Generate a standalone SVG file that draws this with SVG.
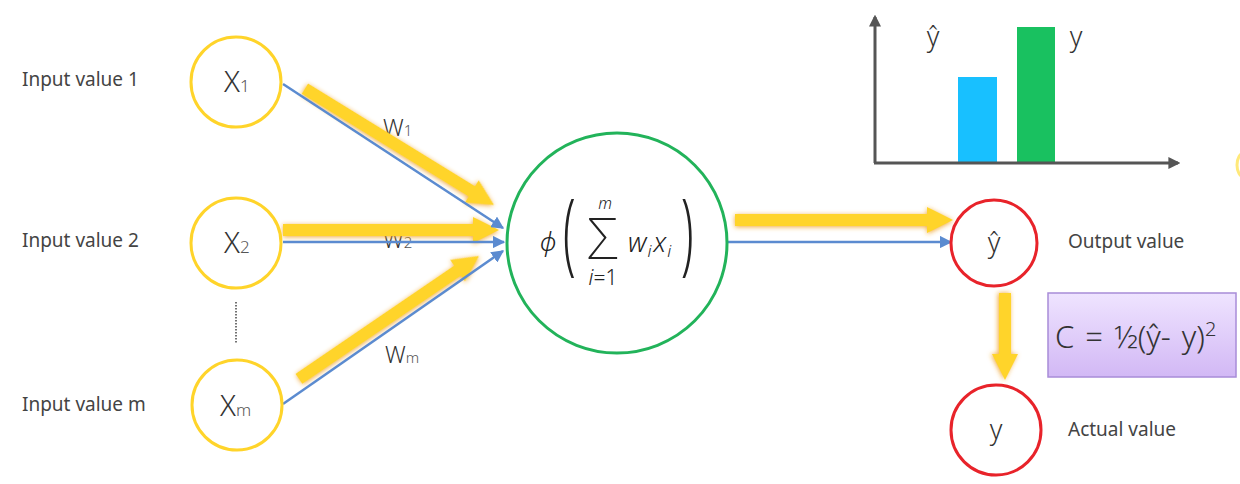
<svg xmlns="http://www.w3.org/2000/svg" width="1240" height="484" viewBox="0 0 1240 484">
<style>
.lbl{font-family:"Noto Sans","Open Sans",sans-serif;font-size:19px;fill:#444}
.nt{font-family:"Noto Sans","Open Sans",sans-serif;font-weight:300;fill:#333}
.inp{fill:#fff;stroke:#FFD42A;stroke-width:3}
.sum{fill:#fff;stroke:#22b35a;stroke-width:3}
.out{fill:#fff;stroke:#e8232a;stroke-width:3}
.blue{stroke:#5b8bd0;stroke-width:2.5;fill:none;marker-end:url(#bh)}
.ya{fill:#FFD42A;filter:url(#glow)}
.ax{stroke:#555;stroke-width:3;fill:none;marker-end:url(#axh)}
.math{font-family:"Noto Sans","DejaVu Sans",sans-serif;font-weight:300;fill:#222}
</style>
<defs>
<marker id="bh" viewBox="0 0 10 10" refX="9" refY="5" markerWidth="5" markerHeight="5" orient="auto" markerUnits="strokeWidth">
<path d="M0,0 L10,5 L0,10 z" fill="#5b8bd0"/>
</marker>
<marker id="axh" viewBox="0 0 10 10" refX="8" refY="5" markerWidth="4" markerHeight="4" orient="auto" markerUnits="strokeWidth">
<path d="M0,0 L10,5 L0,10 z" fill="#555"/>
</marker>
<filter id="glow" x="-20%" y="-50%" width="140%" height="200%">
<feDropShadow dx="0" dy="1" stdDeviation="2.5" flood-color="#f0a020" flood-opacity="0.9"/>
</filter>
<linearGradient id="pg" x1="0" y1="0" x2="0" y2="1">
<stop offset="0" stop-color="#efe4ff"/>
<stop offset="1" stop-color="#d2b8f5"/>
</linearGradient>
</defs>

<!-- labels -->
<text class="lbl" x="22" y="86">Input value 1</text>
<text class="lbl" x="22" y="247">Input value 2</text>
<text class="lbl" x="22" y="411">Input value m</text>
<text class="lbl" x="1068" y="248">Output value</text>
<text class="lbl" x="1068" y="436">Actual value</text>

<!-- weight labels -->
<text class="nt" x="383" y="136" font-size="23">W<tspan font-size="15" fill="#555">1</tspan></text>
<text class="nt" x="383" y="248" font-size="23">W<tspan font-size="15" fill="#555">2</tspan></text>
<text class="nt" x="385" y="363" font-size="23">W<tspan font-size="15" fill="#555">m</tspan></text>

<line x1="236" y1="302" x2="236" y2="344" stroke="#444" stroke-width="1.5" stroke-dasharray="1.5,1.5"/>

<!-- connectors -->
<g id="connectors">
<g transform="translate(494,205) rotate(31.6)"><path class="ya" d="M-222,-6 L-26,-6 L-26,-13 L0,0 L-26,13 L-26,6 L-222,6 z"/></g>
<g transform="translate(499,230)"><path class="ya" d="M-216,-6 L-26,-6 L-26,-13 L0,0 L-26,13 L-26,6 L-216,6 z"/></g>
<g transform="translate(479,256) rotate(-34.3)"><path class="ya" d="M-218,-6 L-26,-6 L-26,-13 L0,0 L-26,13 L-26,6 L-218,6 z"/></g>
<g transform="translate(953,220)"><path class="ya" d="M-218,-6 L-26,-6 L-26,-13 L0,0 L-26,13 L-26,6 L-218,6 z"/></g>
<g transform="translate(1005,380) rotate(90)"><path class="ya" d="M-87,-6 L-26,-6 L-26,-13 L0,0 L-26,13 L-26,6 L-87,6 z"/></g>
<line class="blue" x1="283" y1="84" x2="503" y2="228"/>
<line class="blue" x1="283" y1="242" x2="504" y2="242"/>
<line class="blue" x1="283" y1="404" x2="503" y2="251"/>
<line class="blue" x1="728" y1="242" x2="951" y2="242"/>
</g>

<!-- nodes -->
<g id="x1"><circle class="inp" cx="236" cy="82" r="45"/><text class="nt" x="224" y="92" font-size="29">X<tspan font-size="17" fill="#555">1</tspan></text></g>
<g id="x2"><circle class="inp" cx="236" cy="243" r="45"/><text class="nt" x="224" y="253" font-size="29">X<tspan font-size="17" fill="#555">2</tspan></text></g>
<g id="xm"><circle class="inp" cx="237" cy="405" r="45"/><text class="nt" x="220" y="416" font-size="29">X<tspan font-size="17" fill="#555">m</tspan></text></g>

<g id="sum">
<circle class="sum" cx="617" cy="243" r="110"/>
<text class="math" x="548" y="251" text-anchor="middle" font-style="italic" font-size="26" fill="#444">ϕ</text>
<text transform="translate(563,264) scale(0.5,1)" font-family="Noto Sans,sans-serif" font-weight="300" font-size="90" fill="#222">(</text>
<text x="603" y="259" text-anchor="middle" font-family="Noto Sans,sans-serif" font-weight="200" font-size="57" fill="#222">Σ</text>
<text class="math" x="605" y="209" text-anchor="middle" font-style="italic" font-size="16">m</text>
<text class="math" x="603" y="285" text-anchor="middle" font-size="21"><tspan font-style="italic">i</tspan>=1</text>
<text class="math" x="628" y="252" font-style="italic" font-size="27">w<tspan font-size="17" dx="1" dy="5">i</tspan><tspan dx="2" dy="-5">x</tspan><tspan font-size="17" dx="1" dy="5">i</tspan></text>
<text transform="translate(681,264) scale(0.5,1)" font-family="Noto Sans,sans-serif" font-weight="300" font-size="90" fill="#222">)</text>
</g>

<g id="yhat"><circle class="out" cx="994" cy="243" r="43"/><text class="nt" x="994" y="252" text-anchor="middle" font-size="27">ŷ</text></g>
<g id="y"><circle class="out" cx="996" cy="430" r="45"/><text class="nt" x="996" y="439" text-anchor="middle" font-size="27">y</text></g>

<g id="cost">
<rect x="1048" y="293" width="188" height="84" fill="url(#pg)" stroke="#a88cd8" stroke-width="1.5"/>
<text class="nt" x="1055" y="348" font-size="31" fill="#333" word-spacing="3">C = ½(ŷ- y)<tspan font-size="20" dy="-12">2</tspan></text>
</g>

<g id="chart">
<rect x="958" y="77" width="39" height="86" fill="#18c0ff"/>
<rect x="1017" y="27" width="38" height="136" fill="#19c160"/>
<line class="ax" x1="875" y1="163" x2="875" y2="17"/>
<line class="ax" x1="874" y1="163" x2="1178" y2="163"/>
<text class="nt" x="933" y="46" text-anchor="middle" font-size="27">ŷ</text>
<text class="nt" x="1076" y="46" text-anchor="middle" font-size="27">y</text>
</g>
<ellipse cx="1244" cy="165" rx="7" ry="12" fill="none" stroke="#FFE97A" stroke-width="3"/>
</svg>
